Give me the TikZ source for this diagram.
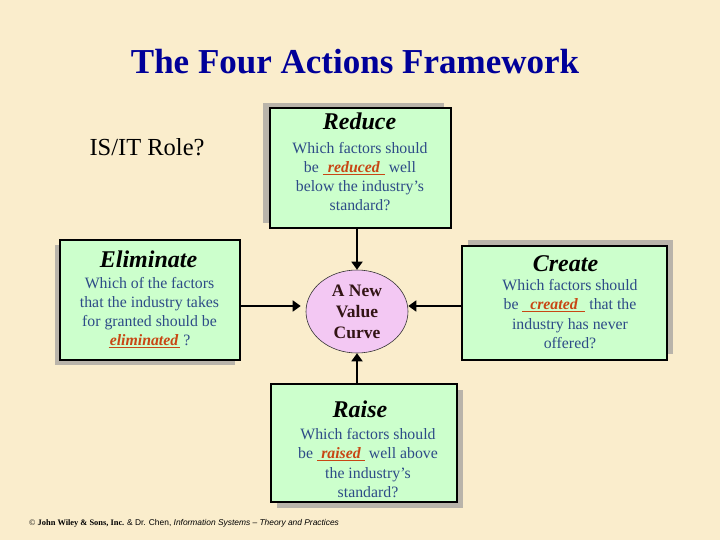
\documentclass[tikz,border=0pt]{standalone}
\usepackage{fontspec}
\setmainfont{Liberation Serif}
\newfontfamily\sansf{Liberation Sans}
\usetikzlibrary{shadows,arrows.meta,shapes.geometric}
\definecolor{bgc}{RGB}{250,237,204}
\definecolor{boxc}{RGB}{204,255,204}
\definecolor{shadc}{RGB}{185,180,170}
\definecolor{ellc}{RGB}{243,200,243}
\definecolor{titlec}{RGB}{0,0,153}
\definecolor{bodyc}{RGB}{45,75,135}
\definecolor{fillc}{RGB}{200,70,20}
\definecolor{curvec}{RGB}{50,20,20}
\newcommand\fillin[2]{\textcolor{fillc}{\underline{\makebox[#1pt]{\bfseries\itshape #2}}}}
\begin{document}
\begin{tikzpicture}[x=1pt,y=-1pt,
  box/.style={draw=black, line width=1.2pt, fill=boxc, inner sep=0},
  boxtitle/.style={inner sep=0, font=\fontsize{24}{28}\selectfont\bfseries\itshape},
  body/.style={inner sep=0, align=center, text=bodyc, font=\fontsize{15.8}{19.2}\selectfont},
  arr/.style={line width=1.8pt, -{Triangle[length=8pt,width=11pt]}}]
\fill[bgc] (0,0) rectangle (720,540);
\useasboundingbox (0,0) rectangle (720,540);

\node[inner sep=0, text=titlec, font=\fontsize{35}{40}\selectfont\bfseries] (title) at (355,62) {The Four Actions Framework};
\node[inner sep=0, font=\fontsize{24.5}{28}\selectfont] (role) at (147,147) {IS/IT Role?};

% boxes
\node[box, minimum width=181pt, minimum height=120pt,
  drop shadow={shadow xshift=-7pt,shadow yshift=5pt,fill=shadc,opacity=1}] (reduce) at (360.5,168) {};
\node[box, minimum width=180pt, minimum height=120pt,
  drop shadow={shadow xshift=-5pt,shadow yshift=-5pt,fill=shadc,opacity=1}] (elim) at (150,300) {};
\node[box, minimum width=205pt, minimum height=114pt,
  drop shadow={shadow xshift=6pt,shadow yshift=6pt,fill=shadc,opacity=1}] (create) at (564.5,303) {};
\node[box, minimum width=186pt, minimum height=118pt,
  drop shadow={shadow xshift=6pt,shadow yshift=-6pt,fill=shadc,opacity=1}] (raise) at (364,443) {};

% titles
\node[boxtitle] (reducet) at (359.5,121) {Reduce};
\node[boxtitle] (elimt) at (148.5,259) {Eliminate};
\node[boxtitle] (createt) at (565.5,264) {Create};
\node[boxtitle] (raiset) at (360,409) {Raise};

% bodies
\node[body] (reduceb) at (360,176.5) {Which factors should\\be \fillin{62}{reduced} well\\below the industry’s\\standard?};
\node[body] (elimb) at (149.5,312.5) {Which of the factors\\that the industry takes\\for granted should be\\\fillin{71}{eliminated} ?};
\node[body] (createb) at (570,314) {Which factors should\\be \fillin{63}{created} that the\\industry has never\\offered?};
\node[body] (raiseb) at (368,463) {Which factors should\\be \fillin{48}{raised} well above\\the industry’s\\standard?};

% centre
\node[ellipse, draw=black!80, line width=0.6pt, fill=ellc, minimum width=102pt, minimum height=83pt,
  inner sep=0, align=center, text=curvec, font=\fontsize{17.5}{21}\selectfont\bfseries] (ell) at (357,311.5) {A New\\Value\\Curve};

\coordinate (hy) at (0,306);
\draw[arr] (reduce.south -| ell.north) -- (ell.north);
\draw[arr] (raise.north -| ell.south) -- (ell.south);
\draw[arr, shorten >=5pt] (elim.east |- hy) -- (ell.west |- hy);
\draw[arr] (create.west |- hy) -- (ell.east |- hy);

\node[anchor=west, inner sep=0, font=\fontsize{8.4}{9}\selectfont] (foot) at (29,523)
  {\textcopyright\ \textbf{John Wiley \& Sons, Inc.} {\sansf \& Dr. Chen, \textit{Information Systems – Theory and Practices}}};
\end{tikzpicture}
\end{document}
